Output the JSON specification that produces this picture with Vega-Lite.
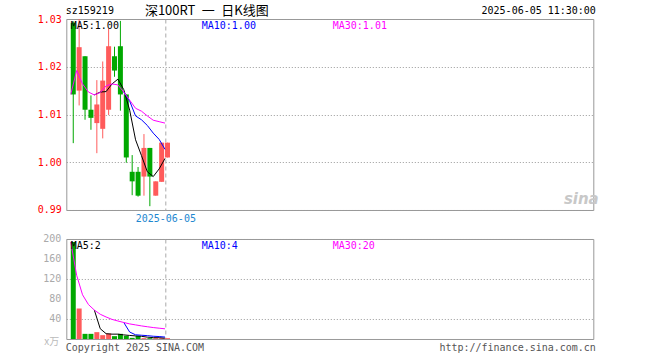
{
  "$schema": "https://vega.github.io/schema/vega-lite/v6.json",
  "autosize": {"type": "pad"},
  "padding": {"left": 36.3, "top": 4, "right": 4, "bottom": 4},
  "bounds": "flush",
  "spacing": 29,
  "config": {
    "view": {"stroke": "#999999", "strokeWidth": 1},
    "axis": {"domain": false, "ticks": false, "labelFont": "DejaVu Sans Mono", "labelFontSize": 10, "labelOverlap": false},
    "text": {"font": "DejaVu Sans Mono", "fontSize": 10}
  },
  "datasets": {
    "candles": [
      {"i": 1, "open": 1.0292, "high": 1.0295, "low": 1.0040, "close": 1.0142, "vol": 194, "dir": "down"},
      {"i": 2, "open": 1.0150, "high": 1.0300, "low": 1.0119, "close": 1.0241, "vol": 61, "dir": "up"},
      {"i": 3, "open": 1.0222, "high": 1.0222, "low": 1.0089, "close": 1.0110, "vol": 10.3, "dir": "down"},
      {"i": 4, "open": 1.0110, "high": 1.0140, "low": 1.0068, "close": 1.0093, "vol": 10.3, "dir": "down"},
      {"i": 5, "open": 1.0082, "high": 1.0172, "low": 1.0019, "close": 1.0121, "vol": 13.7, "dir": "up"},
      {"i": 6, "open": 1.0070, "high": 1.0211, "low": 1.0050, "close": 1.0171, "vol": 7.7, "dir": "up"},
      {"i": 7, "open": 1.0110, "high": 1.0280, "low": 1.0099, "close": 1.0243, "vol": 11, "dir": "up"},
      {"i": 8, "open": 1.0222, "high": 1.0242, "low": 1.0179, "close": 1.0192, "vol": 5.7, "dir": "down"},
      {"i": 9, "open": 1.0243, "high": 1.0296, "low": 1.0108, "close": 1.0142, "vol": 10.3, "dir": "down"},
      {"i": 10, "open": 1.0142, "high": 1.0142, "low": 0.9999, "close": 1.0010, "vol": 6.3, "dir": "down"},
      {"i": 11, "open": 0.9980, "high": 1.0015, "low": 0.9931, "close": 0.9960, "vol": 2.3, "dir": "down"},
      {"i": 12, "open": 0.9980, "high": 0.9990, "low": 0.9928, "close": 0.9930, "vol": 6.3, "dir": "down"},
      {"i": 13, "open": 0.9970, "high": 1.0059, "low": 0.9930, "close": 1.0030, "vol": 1.7, "dir": "up"},
      {"i": 14, "open": 1.0030, "high": 1.0030, "low": 0.9908, "close": 0.9970, "vol": 1.7, "dir": "down"},
      {"i": 15, "open": 0.9930, "high": 0.9960, "low": 0.9930, "close": 0.9960, "vol": 1.7, "dir": "up"},
      {"i": 16, "open": 0.9959, "high": 1.0041, "low": 0.9959, "close": 1.0041, "vol": 1.7, "dir": "up"},
      {"i": 17, "open": 1.0010, "high": 1.0041, "low": 1.0010, "close": 1.0041, "vol": 1.7, "dir": "up"}
    ],
    "ma": [
      {"ma": "MA5", "i": 5, "p": 1.0141, "v": 57.9},
      {"ma": "MA5", "i": 6, "p": 1.0147, "v": 20.6},
      {"ma": "MA5", "i": 7, "p": 1.0148, "v": 10.6},
      {"ma": "MA5", "i": 8, "p": 1.0164, "v": 9.7},
      {"ma": "MA5", "i": 9, "p": 1.0174, "v": 9.7},
      {"ma": "MA5", "i": 10, "p": 1.0152, "v": 8.2},
      {"ma": "MA5", "i": 11, "p": 1.0109, "v": 7.1},
      {"ma": "MA5", "i": 12, "p": 1.0047, "v": 6.2},
      {"ma": "MA5", "i": 13, "p": 1.0014, "v": 5.4},
      {"ma": "MA5", "i": 14, "p": 0.9980, "v": 3.7},
      {"ma": "MA5", "i": 15, "p": 0.9970, "v": 2.7},
      {"ma": "MA5", "i": 16, "p": 0.9986, "v": 2.6},
      {"ma": "MA5", "i": 17, "p": 1.0008, "v": 1.7},
      {"ma": "MA10", "i": 10, "p": 1.0147, "v": 33.0},
      {"ma": "MA10", "i": 11, "p": 1.0128, "v": 13.9},
      {"ma": "MA10", "i": 12, "p": 1.0097, "v": 8.4},
      {"ma": "MA10", "i": 13, "p": 1.0089, "v": 7.5},
      {"ma": "MA10", "i": 14, "p": 1.0077, "v": 6.7},
      {"ma": "MA10", "i": 15, "p": 1.0061, "v": 5.5},
      {"ma": "MA10", "i": 16, "p": 1.0048, "v": 4.9},
      {"ma": "MA10", "i": 17, "p": 1.0027, "v": 3.9},
      {"ma": "MA30", "i": 1, "p": 1.0142, "v": 194},
      {"ma": "MA30", "i": 2, "p": 1.0192, "v": 127.5},
      {"ma": "MA30", "i": 3, "p": 1.0164, "v": 88.4},
      {"ma": "MA30", "i": 4, "p": 1.0147, "v": 68.9},
      {"ma": "MA30", "i": 5, "p": 1.0141, "v": 57.9},
      {"ma": "MA30", "i": 6, "p": 1.0146, "v": 49.5},
      {"ma": "MA30", "i": 7, "p": 1.0160, "v": 44.0},
      {"ma": "MA30", "i": 8, "p": 1.0164, "v": 39.2},
      {"ma": "MA30", "i": 9, "p": 1.0162, "v": 36.0},
      {"ma": "MA30", "i": 10, "p": 1.0147, "v": 33.0},
      {"ma": "MA30", "i": 11, "p": 1.0130, "v": 30.2},
      {"ma": "MA30", "i": 12, "p": 1.0113, "v": 28.2},
      {"ma": "MA30", "i": 13, "p": 1.0107, "v": 26.2},
      {"ma": "MA30", "i": 14, "p": 1.0097, "v": 24.5},
      {"ma": "MA30", "i": 15, "p": 1.0088, "v": 22.9},
      {"ma": "MA30", "i": 16, "p": 1.0085, "v": 21.6},
      {"ma": "MA30", "i": 17, "p": 1.0082, "v": 20.4}
    ],
    "vticks": [
      {"t": 40, "s": "40"},
      {"t": 80, "s": "80"},
      {"t": 120, "s": "120"},
      {"t": 160, "s": "160"},
      {"t": 200, "s": "200"}
    ],
    "note": [{"t": "x"}]
  },
  "vconcat": [
    {
      "width": 527,
      "height": 191,
      "layer": [
        {
          "data": {"name": "candles"},
          "mark": {"type": "rule", "strokeWidth": 1},
          "encoding": {
            "x": {"field": "i", "type": "quantitative", "scale": {"domain": [0.6667, 88.4167], "nice": false, "zero": false},
                  "axis": {"values": [16.63], "labelExpr": "'2025-06-05'", "grid": true, "gridDash": [4, 3], "gridColor": "#aaaaaa", "labelColor": "#1e88d0", "labelPadding": 4, "labelFlush": false, "title": null}},
            "y": {"field": "low", "type": "quantitative", "scale": {"domain": [0.99, 1.03], "nice": false, "zero": false},
                  "axis": {"values": [0.99, 1.0, 1.01, 1.02, 1.03], "format": ".2f", "labelColor": "#ff0000", "grid": true, "gridDash": [1, 2], "gridColor": "#999999", "labelPadding": 5, "labelOverlap": false, "labelFlush": false, "title": null}},
            "y2": {"field": "high"},
            "color": {"field": "dir", "type": "nominal", "scale": {"domain": ["up", "down"], "range": ["#ff5b5b", "#00a800"]}, "legend": null}
          }
        },
        {
          "data": {"name": "candles"},
          "mark": {"type": "bar", "width": 5},
          "encoding": {
            "x": {"field": "i", "type": "quantitative"},
            "y": {"field": "open", "type": "quantitative"},
            "y2": {"field": "close"},
            "color": {"field": "dir", "type": "nominal", "legend": null}
          }
        },
        {
          "data": {"name": "ma"},
          "transform": [{"filter": "datum.ma == 'MA5'"}],
          "mark": {"type": "line", "strokeWidth": 1, "color": "#000000", "xOffset": -2.5},
          "encoding": {"x": {"field": "i", "type": "quantitative"}, "y": {"field": "p", "type": "quantitative"}}
        },
        {
          "data": {"name": "ma"},
          "transform": [{"filter": "datum.ma == 'MA10'"}],
          "mark": {"type": "line", "strokeWidth": 1, "color": "#0000ff", "xOffset": -2.5},
          "encoding": {"x": {"field": "i", "type": "quantitative"}, "y": {"field": "p", "type": "quantitative"}}
        },
        {
          "data": {"name": "ma"},
          "transform": [{"filter": "datum.ma == 'MA30'"}],
          "mark": {"type": "line", "strokeWidth": 1, "color": "#ff00ff", "xOffset": -2.5},
          "encoding": {"x": {"field": "i", "type": "quantitative"}, "y": {"field": "p", "type": "quantitative"}}
        },
        {
          "data": {"name": "note"},
          "mark": {"type": "text", "align": "left", "baseline": "middle", "color": "#000000"},
          "encoding": {"x": {"value": 4.5}, "y": {"value": 7}, "text": {"value": "MA5:1.00"}}
        },
        {
          "data": {"name": "note"},
          "mark": {"type": "text", "align": "left", "baseline": "middle", "color": "#0000ff"},
          "encoding": {"x": {"value": 135.5}, "y": {"value": 7}, "text": {"value": "MA10:1.00"}}
        },
        {
          "data": {"name": "note"},
          "mark": {"type": "text", "align": "left", "baseline": "middle", "color": "#ff00ff"},
          "encoding": {"x": {"value": 266.5}, "y": {"value": 7}, "text": {"value": "MA30:1.01"}}
        },
        {
          "data": {"name": "note"},
          "mark": {"type": "text", "align": "left", "baseline": "middle", "color": "#000000"},
          "encoding": {"x": {"value": -0.5}, "y": {"value": -8}, "text": {"value": "sz159219"}}
        },
        {
          "data": {"name": "note"},
          "mark": {"type": "text", "align": "center", "baseline": "middle", "color": "#000000", "font": "Noto Sans CJK SC", "fontSize": 13},
          "encoding": {"x": {"value": 140.5}, "y": {"value": -8}, "text": {"value": "深100RT\u2002一\u2002日K线图"}}
        },
        {
          "data": {"name": "note"},
          "mark": {"type": "text", "align": "right", "baseline": "middle", "color": "#000000"},
          "encoding": {"x": {"value": 529.5}, "y": {"value": -8}, "text": {"value": "2025-06-05 11:30:00"}}
        },
        {
          "data": {"name": "note"},
          "mark": {"type": "text", "align": "center", "baseline": "middle", "color": "#c8c8c8", "font": "DejaVu Sans", "fontSize": 15, "fontStyle": "italic", "fontWeight": "bold"},
          "encoding": {"x": {"value": 515}, "y": {"value": 180}, "text": {"value": "sina"}}
        }
      ]
    },
    {
      "width": 527,
      "height": 100,
      "layer": [
        {
          "data": {"name": "candles"},
          "mark": {"type": "bar", "width": 5},
          "encoding": {
            "x": {"field": "i", "type": "quantitative", "scale": {"domain": [0.6667, 88.4167], "nice": false, "zero": false},
                  "axis": {"values": [16.63], "labels": false, "grid": true, "gridDash": [4, 3], "gridColor": "#aaaaaa", "title": null}},
            "y": {"field": "vol", "type": "quantitative", "scale": {"domain": [0, 200], "nice": false},
                  "axis": {"values": [40, 80, 120, 160, 200], "labels": false, "grid": true, "gridDash": [1, 2], "gridColor": "#999999", "title": null}},
            "color": {"field": "dir", "type": "nominal", "scale": {"domain": ["up", "down"], "range": ["#ff5b5b", "#00a800"]}, "legend": null}
          }
        },
        {
          "data": {"name": "ma"},
          "transform": [{"filter": "datum.ma == 'MA5'"}],
          "mark": {"type": "line", "strokeWidth": 1, "color": "#000000", "xOffset": -2.5},
          "encoding": {"x": {"field": "i", "type": "quantitative"}, "y": {"field": "v", "type": "quantitative"}}
        },
        {
          "data": {"name": "ma"},
          "transform": [{"filter": "datum.ma == 'MA10'"}],
          "mark": {"type": "line", "strokeWidth": 1, "color": "#0000ff", "xOffset": -2.5},
          "encoding": {"x": {"field": "i", "type": "quantitative"}, "y": {"field": "v", "type": "quantitative"}}
        },
        {
          "data": {"name": "ma"},
          "transform": [{"filter": "datum.ma == 'MA30'"}],
          "mark": {"type": "line", "strokeWidth": 1, "color": "#ff00ff", "xOffset": -2.5},
          "encoding": {"x": {"field": "i", "type": "quantitative"}, "y": {"field": "v", "type": "quantitative"}}
        },
        {
          "data": {"name": "vticks"},
          "mark": {"type": "text", "align": "right", "baseline": "middle", "color": "#aaaaaa"},
          "encoding": {"x": {"value": -5}, "y": {"field": "t", "type": "quantitative"}, "text": {"field": "s"}}
        },
        {
          "data": {"name": "note"},
          "mark": {"type": "text", "align": "left", "baseline": "middle", "color": "#000000"},
          "encoding": {"x": {"value": 4.5}, "y": {"value": 7}, "text": {"value": "MA5:2"}}
        },
        {
          "data": {"name": "note"},
          "mark": {"type": "text", "align": "left", "baseline": "middle", "color": "#0000ff"},
          "encoding": {"x": {"value": 135.5}, "y": {"value": 7}, "text": {"value": "MA10:4"}}
        },
        {
          "data": {"name": "note"},
          "mark": {"type": "text", "align": "left", "baseline": "middle", "color": "#ff00ff"},
          "encoding": {"x": {"value": 266.5}, "y": {"value": 7}, "text": {"value": "MA30:20"}}
        },
        {
          "data": {"name": "note"},
          "mark": {"type": "text", "align": "right", "baseline": "middle", "color": "#bbbbbb", "font": "Noto Sans CJK SC", "fontSize": 10},
          "encoding": {"x": {"value": -7}, "y": {"value": 103}, "text": {"value": "x万"}}
        },
        {
          "data": {"name": "note"},
          "mark": {"type": "text", "align": "left", "baseline": "middle", "color": "#555555"},
          "encoding": {"x": {"value": -0.5}, "y": {"value": 109}, "text": {"value": "Copyright 2025 SINA.COM"}}
        },
        {
          "data": {"name": "note"},
          "mark": {"type": "text", "align": "right", "baseline": "middle", "color": "#555555"},
          "encoding": {"x": {"value": 529.5}, "y": {"value": 109}, "text": {"value": "http://finance.sina.com.cn"}}
        }
      ]
    }
  ]
}
